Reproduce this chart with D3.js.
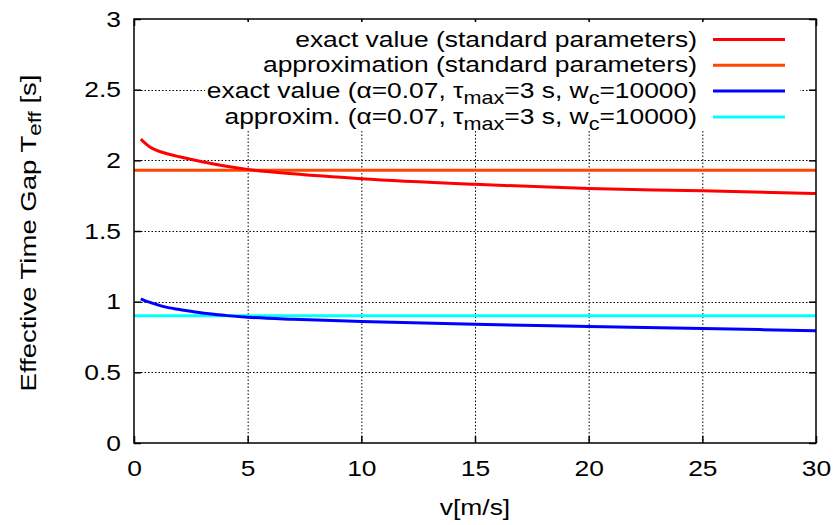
<!DOCTYPE html>
<html><head><meta charset="utf-8">
<script src="https://cdn.jsdelivr.net/npm/d3@7"></script>
<style>body{margin:0;background:#fff}svg{display:block;font-family:"Liberation Sans",Arial,sans-serif}</style>
</head><body>
<svg id="c" width="835" height="525"></svg>
<script>
const vValues   = [0.3, 0.5, 0.7, 1, 1.5, 2, 3, 4, 5, 7, 10, 15, 20, 25, 30];
const exactStd  = [2.15, 2.12, 2.095, 2.07, 2.045, 2.025, 1.99, 1.96, 1.936, 1.905, 1.87, 1.83, 1.80, 1.785, 1.765];
const exactAlt  = [1.02, 1.005, 0.995, 0.98, 0.958, 0.945, 0.92, 0.903, 0.89, 0.875, 0.86, 0.84, 0.825, 0.81, 0.795];
const approxStd = 1.93;
const approxAlt = 0.90;
const xTicks = [0, 5, 10, 15, 20, 25, 30];
const yTicks = [0, 0.5, 1, 1.5, 2, 2.5, 3];
const legendItems = [
  {parts:[["exact value (standard parameters)",""]], color:"#ff0000"},
  {parts:[["approximation (standard parameters)",""]], color:"#ff4500"},
  {parts:[["exact value (α=0.07, τ",""],["max","sub"],["=3 s, w",""],["c","sub"],["=10000)",""]], color:"#0000ff"},
  {parts:[["approxim. (α=0.07, τ",""],["max","sub"],["=3 s, w",""],["c","sub"],["=10000)",""]], color:"#00ffff"}
];

const svg = d3.select("#c");
const L = 134, R = 816, T = 19, B = 443;
const FS = 22, SX = 1.2;
const x = d3.scaleLinear().domain([0, 30]).range([L, R]);
const y = d3.scaleLinear().domain([0, 3]).range([B, T]);

// grid
const grid = svg.append("g").attr("stroke","#000").attr("stroke-width",1).attr("stroke-dasharray","1.5,2");
grid.selectAll(".gx").data(xTicks.filter(d=>d>0&&d<30)).join("line")
  .attr("x1",d=>x(d)+0.5).attr("x2",d=>x(d)+0.5).attr("y1",T).attr("y2",B);
grid.selectAll(".gy").data(yTicks.filter(d=>d>0&&d<3)).join("line")
  .attr("y1",d=>Math.round(y(d))+0.5).attr("y2",d=>Math.round(y(d))+0.5).attr("x1",L).attr("x2",R);

// axes with ticks inward & mirrored
const ax = svg.append("g").attr("transform",`translate(0,${B})`)
  .call(d3.axisBottom(x).tickValues(xTicks).tickSize(-7).tickPadding(17).tickFormat(d3.format("d")));
const axT = svg.append("g").attr("transform",`translate(0,${T})`)
  .call(d3.axisTop(x).tickValues(xTicks).tickSize(-7).tickFormat(""));
const ay = svg.append("g").attr("transform",`translate(${L},0)`)
  .call(d3.axisLeft(y).tickValues(yTicks).tickSize(-7).tickPadding(13).tickFormat(d=>String(d)));
const ayR = svg.append("g").attr("transform",`translate(${R},0)`)
  .call(d3.axisRight(y).tickValues(yTicks).tickSize(-7).tickFormat(""));
[ax,axT,ay,ayR].forEach(g=>{g.select(".domain").remove();g.selectAll("line").attr("stroke","#000").attr("stroke-width",1.5);
  g.selectAll("text").attr("font-size",FS).attr("font-family","Liberation Sans, Arial, sans-serif").attr("fill","#000");});
// stretch tick labels horizontally
ax.selectAll("text").each(function(){const t=d3.select(this);const yy=+t.attr("y");t.attr("y",0).attr("transform",`translate(0,${yy}) scale(${SX},1)`);});
ay.selectAll("text").each(function(){const t=d3.select(this);const xx=+t.attr("x");t.attr("x",0).attr("transform",`translate(${xx},0) scale(${SX},1)`);});

// legend box (opaque)
svg.append("rect").attr("x",205).attr("y",22).attr("width",595).attr("height",108).attr("fill","#fff");

// lines
const line = d3.line().x(d=>x(d[0])).y(d=>y(d[1])).curve(d3.curveMonotoneX);
svg.append("clipPath").attr("id","pc").append("rect").attr("x",L).attr("y",T).attr("width",R-L).attr("height",B-T);
const plot = svg.append("g").attr("clip-path","url(#pc)");
plot.append("path").attr("d",line([[0,approxStd],[30,approxStd]])).attr("stroke","#ff4500").attr("stroke-width",3).attr("fill","none");
plot.append("path").attr("d",line([[0,approxAlt],[30,approxAlt]])).attr("stroke","#00ffff").attr("stroke-width",3).attr("fill","none");
plot.append("path").attr("d",line(vValues.map((v,i)=>[v,exactStd[i]]))).attr("stroke","#ff0000").attr("stroke-width",3).attr("fill","none");
plot.append("path").attr("d",line(vValues.map((v,i)=>[v,exactAlt[i]]))).attr("stroke","#0000ff").attr("stroke-width",3).attr("fill","none");

// legend
const lg = svg.append("g");
legendItems.forEach((it,i)=>{
  const cy = 39.5 + i*25.8;
  const t = lg.append("text").attr("transform",`translate(697,${cy+7}) scale(${SX},1)`).attr("text-anchor","end").attr("font-size",FS).attr("fill","#000");
  let shifted = false;
  it.parts.forEach(([s,k])=>{
    const ts = t.append("tspan").text(s);
    if (k==="sub"){ ts.attr("dy",6).attr("font-size",18); shifted = true; }
    else if (shifted){ ts.attr("dy",-6); shifted=false; }
  });
  lg.append("line").attr("x1",713).attr("x2",785).attr("y1",cy).attr("y2",cy).attr("stroke",it.color).attr("stroke-width",3);
});

// frame
svg.append("rect").attr("x",L).attr("y",T).attr("width",R-L).attr("height",B-T).attr("fill","none").attr("stroke","#000").attr("stroke-width",1.5);

// axis labels
svg.append("text").attr("transform",`translate(${(L+R)/2},515) scale(${SX},1)`).attr("text-anchor","middle").attr("font-size",FS).text("v[m/s]");
const yl = svg.append("text").attr("transform","translate(36,233) rotate(-90) scale(1.25,1)").attr("text-anchor","middle").attr("font-size",FS);
yl.append("tspan").text("Effective Time Gap T");
yl.append("tspan").text("eff").attr("dy",5).attr("font-size",18);
yl.append("tspan").text(" [s]").attr("dy",-5);
</script>
</body></html>
